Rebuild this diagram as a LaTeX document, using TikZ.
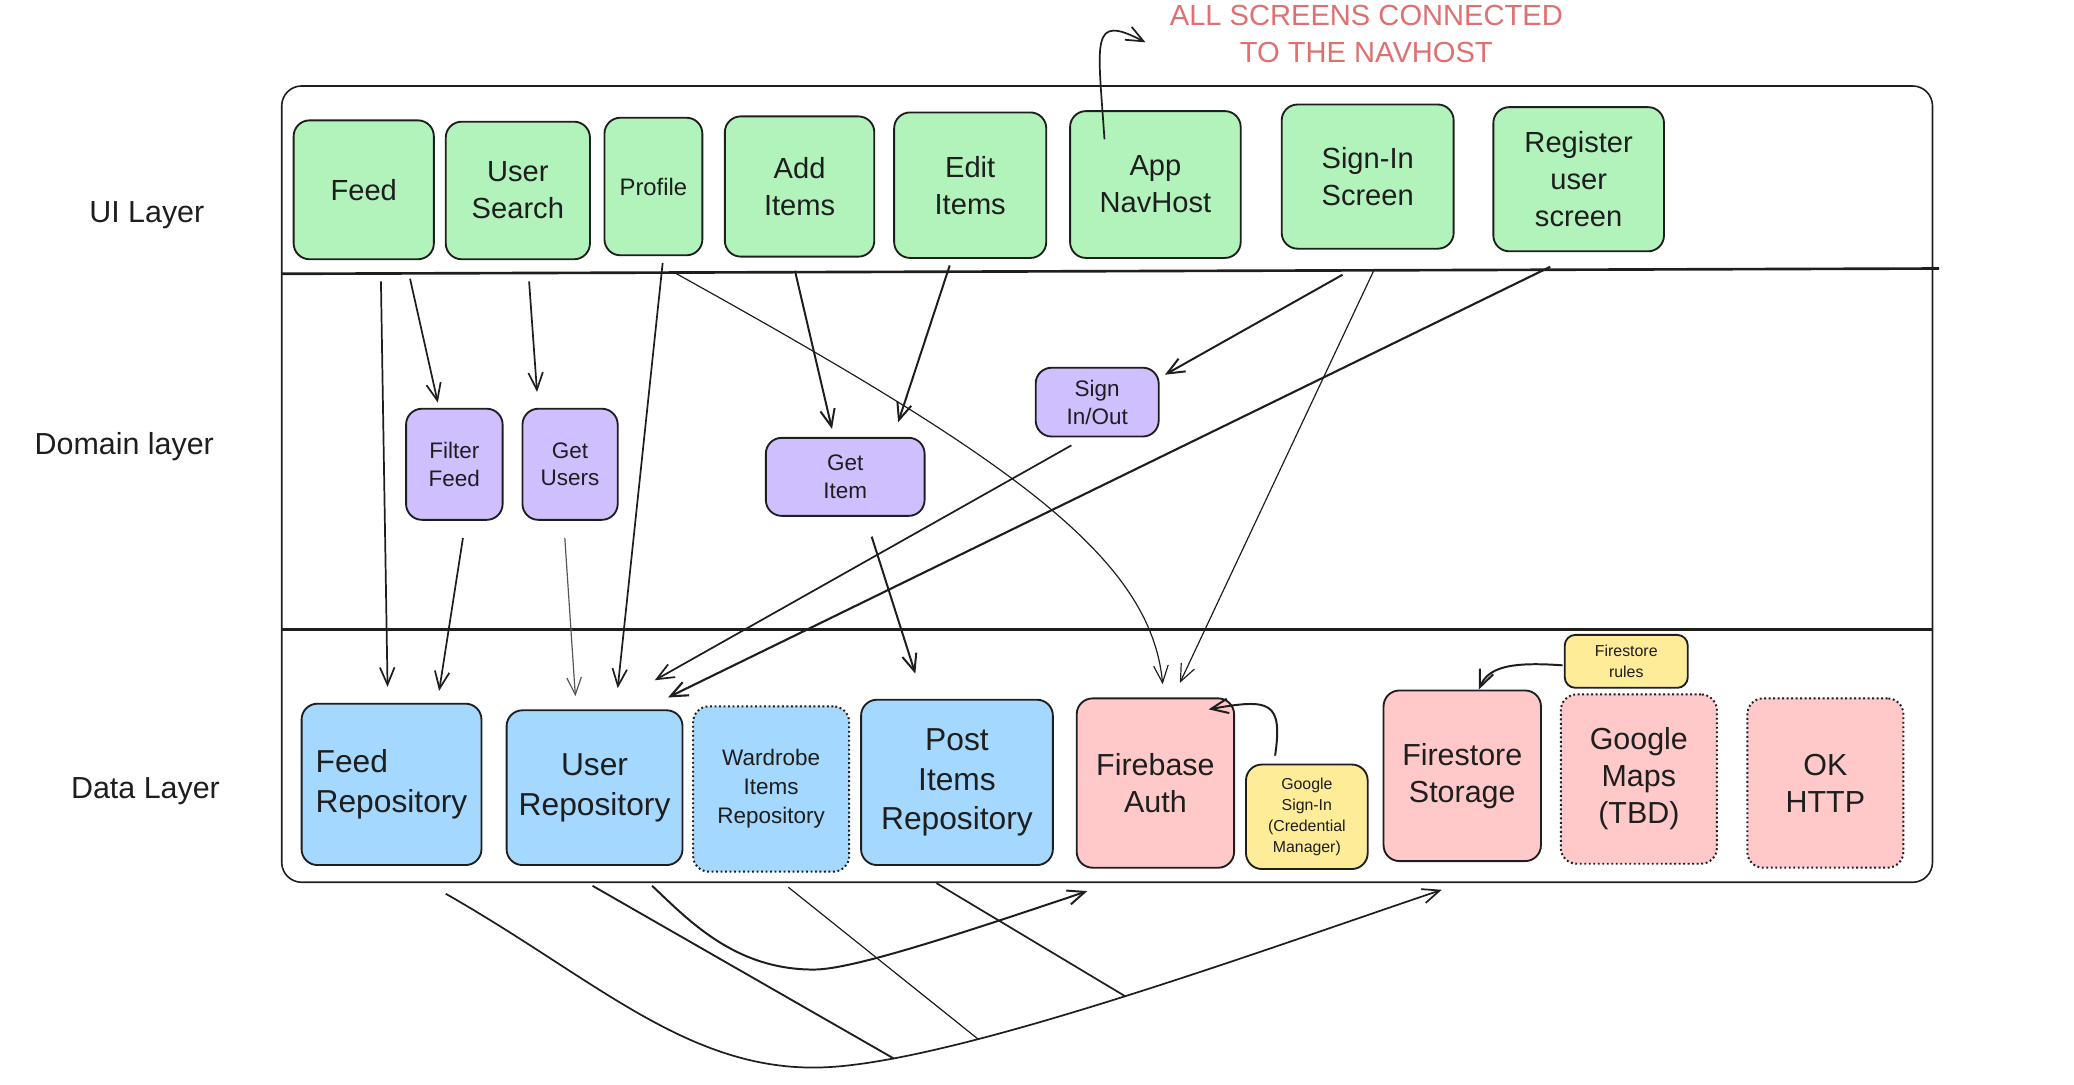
\documentclass[tikz,border=0pt]{standalone}
\usepackage{fontspec}
\setmainfont{Liberation Sans}
\usetikzlibrary{arrows.meta,calc}

\definecolor{stroke}{HTML}{1E1E1E}
\definecolor{gfill}{HTML}{B2F2BB}
\definecolor{pfill}{HTML}{D0BFFF}
\definecolor{bfill}{HTML}{A5D8FF}
\definecolor{rfill}{HTML}{FFC9C9}
\definecolor{yfill}{HTML}{FFEC99}
\definecolor{notecol}{HTML}{E07070}
\definecolor{greyline}{HTML}{555555}

\newcommand{\fsz}[2]{\fontsize{#1}{#2}\selectfont}

\begin{document}
\begin{tikzpicture}[x=1pt,y=-1pt,
  box/.style={draw=stroke,line width=1.4pt,rounded corners=12pt,align=center,inner sep=0pt,text=stroke},
  ui/.style={box,fill=gfill,font=\fsz{22}{28}},
  dom/.style={box,fill=pfill,font=\fsz{17}{21}},
  data/.style={box,fill=bfill,font=\fsz{24}{30}},
  ext/.style={box,fill=rfill,font=\fsz{23}{28}},
  tag/.style={box,fill=yfill,font=\fsz{12}{16},rounded corners=8pt},
  opt/.style={dotted,line width=1.5pt},
  sz/.style 2 args={minimum width=#1pt,minimum height=#2pt},
  tip/.style={-{Straight Barb[length=13pt,width=11pt]}},
  conn/.style={draw=stroke,line width=1.3pt,tip},
  thinc/.style={draw=stroke,line width=0.9pt,tip},
  plain/.style={draw=stroke,line width=1.2pt},
  layerlabel/.style={font=\fsz{23}{28},text=stroke},
]
\useasboundingbox (0,0) rectangle (1568,820);

% frame and dividers
\draw[draw=stroke,line width=1.2pt,rounded corners=15pt] (213,65) rectangle (1461,667);
\coordinate (d1l) at (213,207);
\coordinate (d1r) at (1466,203);
\coordinate (d2l) at (213,476);
\coordinate (d2r) at (1461,476);
\draw[draw=stroke,line width=2pt] (d1l) -- (d1r);
\draw[draw=stroke,line width=2pt] (d2l) -- (d2r);

% layer labels
\node[layerlabel] (lui) at (111,163) {UI Layer};
\node[layerlabel] (ldom) at (94,338) {Domain layer};
\node[layerlabel] (ldata) at (110,598) {Data Layer};

% note
\node[font=\fsz{22}{28},text=notecol,align=center] (note) at (1033,26) {ALL SCREENS CONNECTED\\TO THE NAVHOST};

% UI layer
\node[ui,sz={106}{105}] (feed) at (275,143.5) {Feed};
\node[ui,sz={109}{104}] (usearch) at (391.5,144) {User\\Search};
\node[ui,sz={74}{104},font=\fsz{18}{22}] (profile) at (494,141) {Profile};
\node[ui,sz={113}{106}] (additems) at (604.5,141) {Add\\Items};
\node[ui,sz={115}{110}] (edititems) at (733.5,140) {Edit\\Items};
\node[ui,sz={129}{111}] (navhost) at (873.5,139.5) {App\\NavHost};
\node[ui,sz={130}{109}] (signin) at (1034,133.5) {Sign-In\\Screen};
\node[ui,sz={129}{109}] (register) at (1193.5,135.5) {Register\\user\\screen};

% Domain layer
\node[dom,sz={73}{84}] (filterfeed) at (343.5,351) {Filter\\Feed};
\node[dom,sz={72}{84}] (getusers) at (431,351) {Get\\Users};
\node[dom,sz={120}{59}] (getitem) at (639,360.5) {Get\\Item};
\node[dom,sz={93}{52}] (signinout) at (829.5,304) {Sign\\In/Out};

% Data layer
\node[data,sz={136}{122},align=left] (feedrepo) at (296,593) {Feed\\Repository};
\node[data,sz={133}{117}] (userrepo) at (449.5,595.5) {User\\Repository};
\node[data,opt,sz={118}{125},font=\fsz{17}{22}] (wardrobe) at (583,596.5) {Wardrobe\\Items\\Repository};
\node[data,sz={145}{125}] (postrepo) at (723.5,591.5) {Post\\Items\\Repository};
\node[ext,sz={119}{128}] (fbauth) at (873.5,592) {Firebase\\Auth};
\node[tag,sz={92}{79},rounded corners=12pt] (gsignin) at (988,617.5) {Google\\Sign-In\\(Credential\\Manager)};
\node[ext,sz={119}{129}] (fsstorage) at (1105.5,586.5) {Firestore\\Storage};
\node[tag,sz={93}{40}] (fsrules) at (1229.5,500) {Firestore\\rules};
\node[ext,opt,sz={118}{128}] (gmaps) at (1239,589) {Google\\Maps\\(TBD)};
\node[ext,opt,sz={118}{128}] (okhttp) at (1380,592) {OK\\HTTP};

% note arrow
\coordinate (navtip) at (866,32);
\draw[conn] ($(navhost.north)+(-38.5,22)$) .. controls (830,30) and (824,10) .. (navtip);

% UI -> domain / data
\draw[conn] ($(feed.south)+(13,16)$) -- ($(feedrepo.north)+(-3,-12)$);
\draw[conn] ($(feed.south)+(35,14)$) -- ($(filterfeed.north)+(-12.5,-4)$);
\draw[conn] ($(usearch.south)+(8.5,16)$) -- ($(getusers.north)+(-25,-12)$);
\draw[conn] ($(profile.south)+(7,5)$) -- ($(userrepo.north)+(17.5,-16)$);
\draw[thinc] ($(profile.south)+(17,13)$) .. controls (760,345) and (870,420) .. ($(fbauth.north)+(5.5,-10)$);
\draw[conn,line width=1.5pt] ($(additems.south)+(-3.5,10)$) -- ($(getitem.north)+(-10,-6)$);
\draw[conn,line width=1.5pt] ($(edititems.south)+(-15.5,5)$) -- ($(getitem.north)+(40,-11)$);
\draw[conn,line width=1.5pt] ($(signin.south)+(-19,19)$) -- ($(signinout.north east)+(4,6)$);
\draw[thinc] ($(signin.south)+(5,15)$) -- ($(fbauth.north)+(18.5,-11)$);
\draw[conn,line width=1.6pt] ($(register.south)+(-21.5,11)$) -- ($(userrepo.north)+(55.5,-9)$);

% domain -> data
\draw[conn] ($(signinout.south)+(-19.5,6)$) -- ($(userrepo.north)+(45.5,-22)$);
\draw[conn,line width=1.5pt] ($(getitem.south)+(20,15)$) -- ($(postrepo.north)+(-31.5,-19)$);
\draw[conn] ($(filterfeed.south)+(6.5,13)$) -- ($(feedrepo.north)+(36,-9)$);
\draw[thinc,draw=greyline] ($(getusers.south)+(-4,13)$) -- ($(userrepo.north)+(-14.5,-10)$);

% data layer small connectors
\draw[conn,line width=1.5pt] ($(gsignin.north)+(-24,-6)$) .. controls (970,530) and (960,528) .. ($(fbauth.north east)+(-20,9)$);
\draw[conn,line width=1.5pt] ($(fsrules.west)+(-1,3)$) .. controls (1140,500) and (1125,505) .. ($(fsstorage.north)+(12.5,0)$);

% bottom curves
\draw[conn] ($(feedrepo.south)+(41,21)$) .. controls (450,740) and (520,810) .. (621,807)
  .. controls (720,804) and (950,720) .. ($(fsstorage.south)+(-15.5,21)$)
  coordinate[pos=0.155] (m1) coordinate[pos=0.3] (m2) coordinate[pos=0.52] (m3);
\draw[conn,line width=1.5pt] ($(userrepo.south)+(43.5,15)$) .. controls (520,695) and (555,733) .. (615,733)
  .. controls (640,733) and (700,715) .. ($(fbauth.south)+(-51.5,17)$);
\draw[plain,line width=1.4pt] ($(userrepo.south)+(-1.5,15)$) -- (m1);
\draw[plain,line width=0.9pt] ($(wardrobe.south)+(13,11)$) -- (m2);
\draw[plain,line width=1.3pt] ($(postrepo.south)+(-15.5,13)$) -- (m3);
\end{tikzpicture}
\end{document}
